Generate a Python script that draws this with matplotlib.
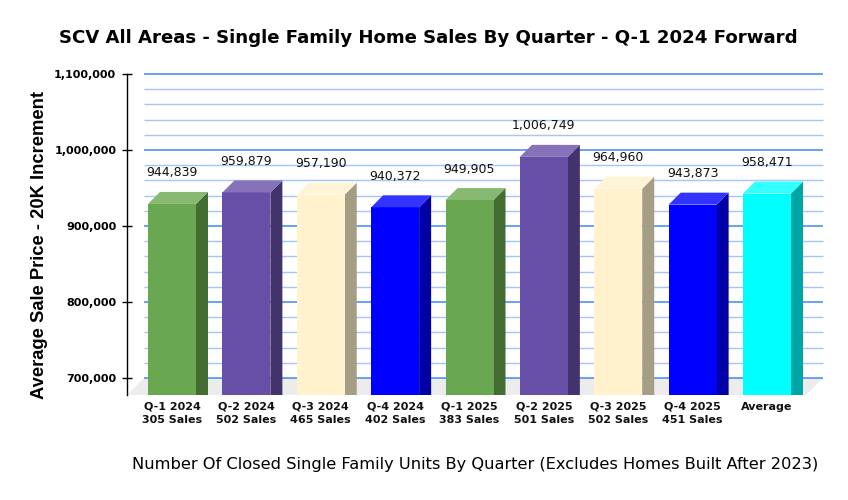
import matplotlib
matplotlib.use("Agg")
import matplotlib.pyplot as plt
from matplotlib.patches import Polygon
import numpy as np

# ---------------- data ----------------
quarters = ["Q-1 2024", "Q-2 2024", "Q-3 2024", "Q-4 2024",
            "Q-1 2025", "Q-2 2025", "Q-3 2025", "Q-4 2025", "Average"]
sales_counts = ["305 Sales", "502 Sales", "465 Sales", "402 Sales",
                "383 Sales", "501 Sales", "502 Sales", "451 Sales", ""]
avg_prices = [944839, 959879, 957190, 940372, 949905,
              1006749, 964960, 943873, 958471]
bar_colors = ["#69A850", "#674FA8", "#FFF2CC", "#0000FF",
              "#69A850", "#674FA8", "#FFF2CC", "#0000FF", "#00FFFF"]
y_ticks = [700000, 800000, 900000, 1000000, 1100000]

# ---------------- style / layout ----------------
W, H = 848, 500
fig = plt.figure(figsize=(W / 100, H / 100), dpi=100)
fig.patch.set_facecolor("white")

ax_left, ax_right, ax_top, ax_bottom = 127, 806, 74, 395
ax = fig.add_axes([ax_left / W, 1 - ax_bottom / H,
                   (ax_right - ax_left) / W, (ax_bottom - ax_top) / H])
ax.set_facecolor("none")

YMAX = 1100000
px_per_100k = 76.0
wall_depth_px = 17
bar_depth_px = 12
ymin = y_ticks[0] - wall_depth_px / px_per_100k * 100000
ax.set_ylim(ymin, YMAX)

slot_px = 74.375
first_center_px = 172
x_lo = (ax_left - first_center_px) / slot_px
x_hi = (ax_right - first_center_px) / slot_px
ax.set_xlim(x_lo, x_hi)

# pixel -> data conversion
dxu = (x_hi - x_lo) / (ax_right - ax_left)
dyu = (YMAX - ymin) / (ax_bottom - ax_top)

def lighten(c, f=0.2):
    r, g, b = matplotlib.colors.to_rgb(c)
    return (r + (1 - r) * f, g + (1 - g) * f, b + (1 - b) * f)

def darken(c, f=0.65):
    r, g, b = matplotlib.colors.to_rgb(c)
    return (r * f, g * f, b * f)

# floor
wdx, wdy = wall_depth_px * dxu, wall_depth_px * dyu
floor = Polygon([(x_lo, ymin), (x_hi, ymin), (x_hi + wdx, ymin + wdy),
                 (x_lo + wdx, ymin + wdy)], closed=True,
                facecolor="#ececec", edgecolor="none", zorder=1,
                clip_on=False)
ax.add_patch(floor)

# back-wall gridlines
minor = np.arange(y_ticks[0], YMAX + 1, 20000)
for v in minor:
    major = (v % 100000) == 0
    ax.plot([x_lo + wdx, x_hi + wdx], [v, v],
            color="#3F87F5" if major else "#A6C4F7",
            lw=1.1 if major else 1.0, zorder=2, clip_on=False,
            solid_capstyle="butt")

# bars (3D look)
bw = 48 * dxu
bdx, bdy = bar_depth_px * dxu, bar_depth_px * dyu
x = np.arange(len(quarters))
for xi, v, c in zip(x, avg_prices, bar_colors):
    x0, x1 = xi - bw / 2, xi + bw / 2
    front = Polygon([(x0, ymin), (x1, ymin), (x1, v - bdy), (x0, v - bdy)],
                    closed=True, facecolor=c, edgecolor="none", zorder=4)
    top = Polygon([(x0, v - bdy), (x1, v - bdy), (x1 + bdx, v), (x0 + bdx, v)],
                  closed=True, facecolor=lighten(c), edgecolor="none", zorder=4)
    side = Polygon([(x1, ymin), (x1 + bdx, ymin), (x1 + bdx, v), (x1, v - bdy)],
                   closed=True, facecolor=darken(c), edgecolor="none", zorder=3)
    for p in (front, top, side):
        ax.add_patch(p)
    ax.annotate(f"{v:,}", (xi, v), xytext=(0, 19 * 0.72), textcoords="offset points",
                ha="center", va="center", fontsize=9, color="#111111",
                family="DejaVu Sans", zorder=6)

# axes styling
for s in ("top", "right", "bottom"):
    ax.spines[s].set_visible(False)
ax.spines["left"].set_color("black")
ax.spines["left"].set_linewidth(1.0)
ax.spines["left"].set_zorder(5)
ax.set_yticks(y_ticks)
ax.set_yticklabels([f"{t:,}" for t in y_ticks])
ax.tick_params(axis="y", direction="inout", length=7.5, width=1.0,
               color="black", pad=4, labelsize=8)
for lab in ax.get_yticklabels():
    lab.set_fontweight("bold")
    lab.set_family("DejaVu Sans")

ax.set_xticks(x)
ax.set_xticklabels([f"{q}\n{s}" if s else q for q, s in zip(quarters, sales_counts)],
                   fontsize=8, fontweight="bold", family="DejaVu Sans",
                   linespacing=1.35, va="top")
ax.tick_params(axis="x", length=0, pad=5)
for lab in ax.get_xticklabels():
    lab.set_color("#111111")

# texts
renderer = fig.canvas.get_renderer()

def fit(t, target_px):
    bb = t.get_window_extent(renderer)
    w = bb.width if t.get_rotation() == 0 else bb.height
    t.set_fontsize(t.get_fontsize() * target_px / w)

title = fig.text(((60 + 797) / 2) / W, 1 - 38 / H,
                 "SCV All Areas - Single Family Home Sales By Quarter - Q-1 2024 Forward",
                 ha="center", va="center", fontsize=13, fontweight="bold",
                 family="DejaVu Sans", color="black")
fit(title, 737)

ylab = fig.text(40 / W, 1 - 245 / H, "Average Sale Price - 20K Increment",
                rotation=90, ha="center", va="center", fontsize=12,
                fontweight="bold", family="Liberation Sans", color="black")
fit(ylab, 306)

xlab = fig.text(((133 + 818) / 2) / W, 1 - 465 / H,
                "Number Of Closed Single Family Units By Quarter (Excludes Homes Built After 2023)",
                ha="center", va="center", fontsize=11, family="DejaVu Sans",
                color="black")
fit(xlab, 685)

fig.savefig("out.png", dpi=100, facecolor="white")
